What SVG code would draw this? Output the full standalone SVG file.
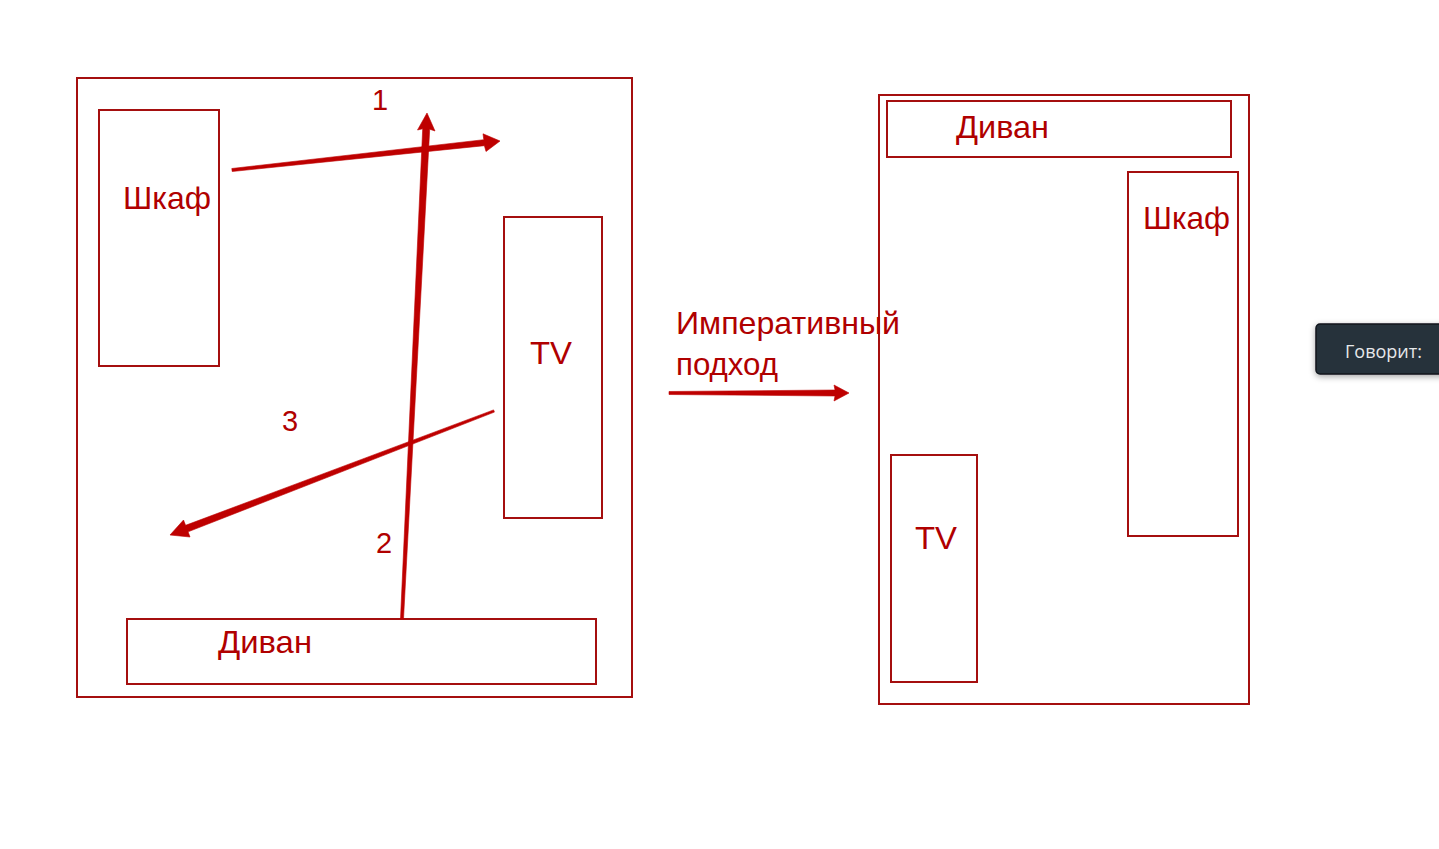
<svg xmlns="http://www.w3.org/2000/svg" width="1439" height="849" viewBox="0 0 1439 849">
<defs>
<style>
.box{fill:none;stroke:#A50F0F;stroke-width:2}
.lbl{font-family:"Liberation Sans",Arial,sans-serif;font-size:32px;fill:#B00000}
.num{font-family:"Liberation Sans",Arial,sans-serif;font-size:29px;fill:#B00000}
.arr{fill:#BE0000;stroke:#BE0000;stroke-width:0.6;stroke-linejoin:round}
</style>
<filter id="sh" x="-20%" y="-30%" width="140%" height="170%">
<feDropShadow dx="0" dy="2" stdDeviation="3" flood-color="#000" flood-opacity="0.35"/>
</filter>
</defs>
<rect width="1439" height="849" fill="#FFFFFF"/>

<g id="room-before">
<rect class="box" x="77" y="78" width="555" height="619"/>
</g>
<g id="shkaf-before">
<rect class="box" x="99" y="110" width="120" height="256"/>
<text class="lbl" x="123" y="209" textLength="88" lengthAdjust="spacingAndGlyphs">Шкаф</text>
</g>
<g id="tv-before">
<rect class="box" x="504" y="217" width="98" height="301"/>
<text class="lbl" x="530" y="364" textLength="42" lengthAdjust="spacingAndGlyphs">TV</text>
</g>
<g id="divan-before">
<rect class="box" x="127" y="619" width="469" height="65"/>
<text class="lbl" x="218" y="653" textLength="94" lengthAdjust="spacingAndGlyphs">Диван</text>
</g>

<g id="room-after">
<rect class="box" x="879" y="95" width="370" height="609"/>
</g>
<g id="divan-after">
<rect class="box" x="887" y="101" width="344" height="56"/>
<text class="lbl" x="956" y="138" textLength="93" lengthAdjust="spacingAndGlyphs">Диван</text>
</g>
<g id="shkaf-after">
<rect class="box" x="1128" y="172" width="110" height="364"/>
<text class="lbl" x="1143" y="229" textLength="87" lengthAdjust="spacingAndGlyphs">Шкаф</text>
</g>
<g id="tv-after">
<rect class="box" x="891" y="455" width="86" height="227"/>
<text class="lbl" x="915" y="549" textLength="42" lengthAdjust="spacingAndGlyphs">TV</text>
</g>

<g id="labels">
<text class="num" x="372" y="110">1</text>
<text class="num" x="282" y="431">3</text>
<text class="num" x="376" y="553">2</text>
<text class="lbl" x="676" y="334" textLength="224" lengthAdjust="spacingAndGlyphs">Императивный</text>
<text class="lbl" x="676" y="375" textLength="102" lengthAdjust="spacingAndGlyphs">подход</text>
</g>

<g id="connectors">
<!-- arrow 1 -->
<polygon class="arr" points="232.2,171.5 484.4,145.7 486,151.5 500,141 483,133.8 483.8,139.7 231.8,168.5"/>
<!-- arrow 2 -->
<polygon class="arr" points="403.5,619.1 429.7,129.2 435,131 427,113 417.5,130 422.7,128.8 400.5,618.9"/>
<!-- arrow 3 -->
<polygon class="arr" points="494.4,412.1 188.1,531.8 190,537 170,535 183.5,520 185.6,525.3 493.6,409.9"/>
<!-- middle arrow -->
<polygon class="arr" points="669,394.5 835,396 834,401 849,393 834,385 835,390 669,391.5"/>
</g>

<g id="tooltip">
<rect x="1316" y="324" width="140" height="50" rx="4" fill="#27303A" stroke="#11161C" stroke-width="1.5" filter="url(#sh)"/>
<text x="1345" y="358" font-family="'Open Sans','Noto Sans',sans-serif" font-size="18" fill="#E6E8EA">Говорит:</text>
</g>
</svg>
